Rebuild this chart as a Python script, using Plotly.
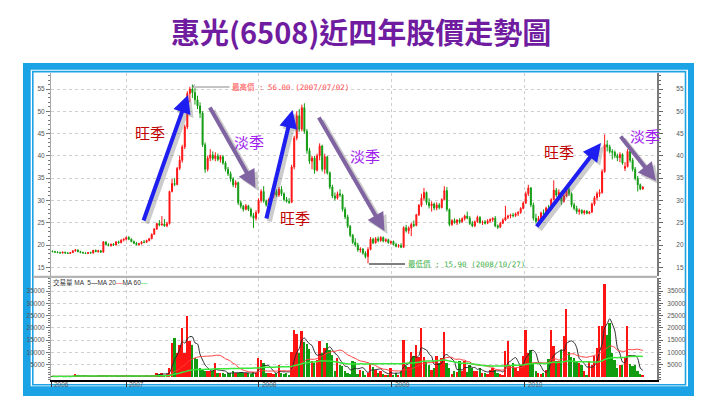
import pandas as pd
import plotly.graph_objects as go

# ---------------- data (weekly candles) ----------------
opens = [
    18.6, 18.5, 18.4, 18.3, 18.2, 18.4, 18.2, 18.1, 18.3, 18.7,
    18.9, 18.5, 18.3, 18.2, 18.1, 18.3, 18.2, 18.8, 18.5, 18.7,
    18.4, 20.7, 20.1, 19.9, 20.2, 20.0, 20.7, 20.5, 21.1, 21.3,
    21.7, 21.3, 20.8, 20.4, 20.1, 20.3, 20.7, 20.6, 21.0, 21.4,
    22.4, 23.6, 24.8, 24.5, 24.7, 24.3, 24.8, 32.0, 33.8, 33.6,
    37.2, 39.0, 42.0, 46.5, 54.0, 55.0, 54.2, 52.6, 51.2, 49.6,
    42.5, 37.0, 39.5, 40.2, 39.4, 40.0, 39.2, 39.8, 38.4, 37.0,
    36.0, 34.8, 33.5, 34.0, 29.5, 28.7, 28.0, 28.8, 28.0, 26.6,
    26.0, 27.3, 30.0, 32.0, 29.9, 29.0, 30.2, 31.2, 32.0, 31.2,
    32.5, 31.5, 30.2, 29.8, 29.6, 37.5, 44.0, 49.0, 46.0, 50.8,
    45.5, 41.2, 38.8, 39.5, 36.8, 40.0, 42.2, 37.0, 39.8, 36.2,
    33.0, 31.0, 30.5, 31.5, 31.2, 28.0, 26.3, 24.2, 22.2, 20.6,
    20.0, 18.9, 19.1, 18.2, 17.4, 19.0, 21.3, 20.5, 21.4, 21.0,
    21.7, 20.9, 21.2, 20.5, 20.8, 20.1, 19.7, 19.9, 19.5, 23.9,
    23.2, 23.8, 24.6, 24.4, 26.8, 28.9, 30.5, 31.8, 29.5, 28.8,
    29.2, 28.3, 29.0, 28.4, 30.2, 32.2, 28.0, 24.6, 25.5, 25.0,
    25.6, 25.2, 25.9, 26.5, 26.0, 24.8, 24.3, 25.2, 26.2, 25.0,
    25.2, 24.9, 25.4, 25.7, 26.0, 24.3, 24.0, 24.9, 25.6, 26.2,
    26.5, 26.7, 26.6, 27.0, 27.3, 28.2, 29.4, 31.5, 32.8, 29.0,
    26.0, 25.3, 26.0, 27.2, 27.0, 28.3, 28.0, 30.2, 32.3, 31.2,
    31.8, 29.8, 31.0, 32.5, 31.5, 29.0, 28.2, 27.5, 27.8, 27.2,
    27.6, 27.1, 27.4, 29.2, 30.6, 31.5, 31.8, 36.5, 42.5, 42.0,
    41.0, 40.8, 40.0, 39.6, 40.3, 37.2, 37.6, 41.0, 39.0, 37.0,
    35.0, 33.5, 32.6,
]
highs = [
    18.8, 18.7, 18.6, 18.5, 18.5, 18.5, 18.4, 18.4, 18.8, 19.1,
    19.0, 18.7, 18.5, 18.4, 18.4, 18.5, 18.9, 19.0, 18.9, 18.9,
    20.9, 20.8, 20.4, 20.3, 20.4, 20.9, 21.0, 21.3, 21.5, 21.9,
    22.0, 21.5, 21.0, 20.7, 20.5, 20.9, 21.1, 21.2, 21.6, 22.6,
    23.8, 25.0, 25.6, 26.5, 25.8, 25.2, 32.2, 34.8, 35.0, 37.5,
    40.0, 42.5, 47.0, 54.5, 55.5, 56.0, 55.2, 53.5, 52.0, 50.0,
    43.0, 40.0, 41.5, 41.0, 40.8, 40.5, 40.2, 40.2, 38.8, 37.5,
    36.5, 35.2, 34.5, 34.2, 30.0, 29.0, 29.2, 29.0, 28.4, 27.2,
    27.8, 30.5, 32.5, 33.2, 30.2, 30.5, 31.8, 32.8, 32.5, 33.0,
    33.2, 31.8, 30.8, 30.5, 38.0, 44.5, 50.0, 50.5, 51.5, 51.8,
    46.0, 41.8, 40.0, 40.0, 40.5, 42.8, 42.5, 40.5, 40.0, 36.5,
    33.5, 31.8, 32.0, 32.5, 31.5, 28.5, 26.8, 24.5, 22.5, 21.5,
    20.5, 19.5, 19.3, 18.6, 19.5, 21.8, 21.6, 21.8, 21.9, 22.0,
    21.9, 21.5, 21.4, 21.0, 21.0, 20.5, 20.2, 20.4, 24.2, 24.5,
    24.2, 25.0, 25.5, 27.0, 29.2, 31.5, 32.8, 32.0, 30.5, 29.8,
    29.5, 29.6, 29.4, 30.5, 33.2, 33.0, 28.2, 25.8, 26.0, 25.8,
    26.0, 26.2, 26.8, 27.5, 26.5, 25.4, 25.5, 26.6, 26.5, 25.5,
    25.6, 25.8, 26.0, 26.2, 26.5, 24.6, 25.2, 26.0, 28.8, 26.8,
    27.0, 27.2, 27.3, 27.6, 28.5, 29.8, 32.0, 33.5, 33.0, 29.5,
    27.0, 26.5, 27.5, 28.0, 28.6, 29.0, 30.5, 34.5, 32.8, 32.5,
    32.2, 31.5, 33.5, 33.0, 31.8, 29.5, 28.8, 28.2, 28.0, 27.9,
    27.8, 27.6, 29.5, 31.0, 32.0, 32.5, 37.0, 44.8, 43.5, 42.5,
    41.5, 41.2, 40.5, 40.8, 40.6, 38.6, 41.5, 41.5, 39.5, 37.5,
    35.5, 33.8, 33.2,
]
lows = [
    18.4, 18.3, 18.2, 18.1, 18.1, 18.1, 18.0, 18.0, 18.2, 18.5,
    18.4, 18.2, 18.1, 18.0, 18.0, 18.1, 18.1, 18.4, 18.3, 18.3,
    18.3, 20.0, 19.7, 19.6, 19.8, 19.9, 20.3, 20.4, 20.8, 21.0,
    21.1, 20.6, 20.2, 19.9, 19.8, 20.1, 20.4, 20.5, 20.8, 21.3,
    22.3, 23.4, 24.2, 24.3, 24.1, 24.0, 24.6, 31.8, 33.2, 33.4,
    36.8, 38.5, 41.5, 46.0, 52.0, 53.0, 51.5, 50.5, 48.5, 42.0,
    36.2, 36.5, 38.8, 39.0, 38.8, 38.8, 38.5, 38.0, 36.5, 35.5,
    34.2, 33.0, 32.8, 29.0, 28.2, 27.5, 27.8, 27.6, 26.2, 23.8,
    25.5, 27.0, 29.5, 29.5, 28.6, 28.8, 29.8, 30.5, 30.8, 30.8,
    31.0, 29.8, 29.5, 29.2, 29.4, 37.0, 43.5, 45.5, 45.5, 45.0,
    40.5, 38.2, 37.0, 36.0, 36.5, 39.0, 36.5, 36.0, 35.8, 32.5,
    30.5, 30.0, 30.2, 30.8, 27.5, 25.8, 23.8, 21.8, 20.2, 19.6,
    18.5, 18.3, 17.8, 17.0, 15.9, 18.8, 20.2, 20.3, 20.6, 20.7,
    20.6, 20.6, 20.3, 20.1, 19.9, 19.5, 19.4, 19.3, 19.4, 22.8,
    22.5, 22.0, 24.0, 24.2, 26.5, 28.5, 30.0, 29.0, 28.2, 27.5,
    27.8, 27.8, 28.0, 28.2, 30.0, 27.5, 24.2, 24.3, 24.8, 24.5,
    24.8, 25.0, 25.5, 25.8, 24.5, 24.0, 24.0, 25.0, 24.8, 24.5,
    24.6, 24.7, 25.0, 25.2, 24.0, 23.6, 23.8, 24.7, 25.4, 25.8,
    26.0, 26.2, 26.3, 26.5, 27.0, 28.0, 29.2, 31.0, 28.5, 25.5,
    24.8, 24.2, 25.8, 26.5, 26.8, 27.5, 27.8, 30.0, 30.8, 30.5,
    29.0, 29.5, 30.8, 31.0, 28.5, 27.8, 27.0, 26.8, 26.9, 26.8,
    26.9, 26.9, 27.2, 28.8, 30.0, 30.8, 31.5, 36.2, 41.0, 40.5,
    39.2, 39.5, 38.8, 38.6, 38.0, 36.6, 37.4, 38.5, 36.5, 34.5,
    32.0, 32.3, 32.4,
]
closes = [
    18.5, 18.4, 18.3, 18.2, 18.4, 18.2, 18.1, 18.3, 18.7, 18.9,
    18.5, 18.3, 18.2, 18.1, 18.3, 18.2, 18.8, 18.5, 18.7, 18.4,
    20.7, 20.1, 19.9, 20.2, 20.0, 20.7, 20.5, 21.1, 21.3, 21.7,
    21.3, 20.8, 20.4, 20.1, 20.3, 20.7, 20.6, 21.0, 21.4, 22.4,
    23.6, 24.8, 24.5, 24.7, 24.3, 24.8, 32.0, 33.8, 33.6, 37.2,
    39.0, 42.0, 46.5, 54.0, 55.0, 54.2, 52.6, 51.2, 49.6, 42.5,
    37.0, 39.5, 40.2, 39.4, 40.0, 39.2, 39.8, 38.4, 37.0, 36.0,
    34.8, 33.5, 34.0, 29.5, 28.7, 28.0, 28.8, 28.0, 26.6, 26.0,
    27.3, 30.0, 32.0, 29.9, 29.0, 30.2, 31.2, 32.0, 31.2, 32.5,
    31.5, 30.2, 29.8, 29.6, 37.5, 44.0, 49.0, 46.0, 50.8, 45.5,
    41.2, 38.8, 39.5, 36.8, 40.0, 42.2, 37.0, 39.8, 36.2, 33.0,
    31.0, 30.5, 31.5, 31.2, 28.0, 26.3, 24.2, 22.2, 20.6, 20.0,
    18.9, 19.1, 18.2, 17.4, 19.0, 21.3, 20.5, 21.4, 21.0, 21.7,
    20.9, 21.2, 20.5, 20.8, 20.1, 19.7, 19.9, 19.5, 23.9, 23.2,
    23.8, 24.6, 24.4, 26.8, 28.9, 30.5, 31.8, 29.5, 28.8, 29.2,
    28.3, 29.0, 28.4, 30.2, 32.2, 28.0, 24.6, 25.5, 25.0, 25.6,
    25.2, 25.9, 26.5, 26.0, 24.8, 24.3, 25.2, 26.2, 25.0, 25.2,
    24.9, 25.4, 25.7, 26.0, 24.3, 24.0, 24.9, 25.6, 26.2, 26.5,
    26.7, 26.6, 27.0, 27.3, 28.2, 29.4, 31.5, 32.8, 29.0, 26.0,
    25.3, 26.0, 27.2, 27.0, 28.3, 28.0, 30.2, 32.3, 31.2, 31.8,
    29.8, 31.0, 32.5, 31.5, 29.0, 28.2, 27.5, 27.8, 27.2, 27.6,
    27.1, 27.4, 29.2, 30.6, 31.5, 31.8, 36.5, 42.5, 42.0, 41.0,
    40.8, 40.0, 39.6, 40.3, 38.4, 37.6, 41.0, 39.0, 37.0, 35.0,
    33.5, 32.6, 33.0,
]
volumes = [
    300, 200, 250, 300, 200, 250, 300, 200, 400, 1200,
    500, 400, 500, 300, 400, 200, 300, 400, 500, 600,
    900, 500, 400, 300, 400, 500, 400, 600, 500, 500,
    400, 500, 300, 400, 300, 400, 300, 500, 400, 600,
    1000, 1500, 1200, 1500, 1000, 1300, 3700, 13800, 15900, 9800,
    13200, 20000, 9800, 24700, 14500, 12900, 7700, 7500, 3700, 2800,
    2500, 2300, 2500, 2300, 5700, 1600, 1500, 1800, 1400, 1600,
    1500, 2300, 1800, 1500, 2000, 1500, 1800, 1500, 1200, 2000,
    1600, 7700, 7000, 5500, 1600, 1500, 1800, 1200, 1500, 5000,
    1500, 1200, 1600, 1000, 10200, 19300, 17500, 9800, 18600, 14200,
    13400, 11500, 6400, 5700, 7100, 14800, 9800, 11800, 13800, 11100,
    8800, 2600, 7700, 5000, 4400, 2300, 1600, 1200, 6400, 6200,
    1200, 3000, 2300, 1000, 1600, 5700, 3900, 3000, 1600, 2300,
    1200, 900, 700, 3700, 1000, 1600, 900, 2300, 15200, 4400,
    4000, 10200, 8400, 12900, 8000, 20000, 8000, 6000, 5000, 3000,
    3700, 8400, 5700, 7700, 18300, 5700, 3700, 1200, 2300, 2000,
    6400, 2300, 6400, 2000, 5000, 3700, 2500, 2300, 3700, 1600,
    1500, 1200, 3000, 3700, 3000, 1600, 1200, 900, 10400, 14800,
    5000, 5700, 3700, 2300, 5000, 8400, 19100, 9800, 11100, 5700,
    2300, 1600, 1200, 1600, 3000, 7400, 19100, 12500, 6400, 6400,
    11100, 16500, 27700, 10200, 8000, 7700, 6400, 5700, 5000, 2300,
    1000, 6400, 5000, 8400, 11800, 20600, 20900, 37900, 17200, 22000,
    9800, 7100, 3700, 5000, 5000, 8000, 20600, 5300, 4400, 5000,
    2300, 1200, 500,
]
first_week = "2006-06-12"
year_labels = ["2006", "2007", "2008", "2009", "2010"]
year_starts = ["2006-06-08", "2007-01-01", "2008-01-01", "2009-01-01", "2010-01-01"]
x_end = "2010-12-31"
price_ticks = [15, 20, 25, 30, 35, 40, 45, 50, 55]
volume_ticks = [5000, 10000, 15000, 20000, 25000, 30000, 35000]
ma_windows = [5, 20, 60]
high_text = "最高價 : 56.00 (2007/07/02)"
low_text = "最低價 : 15.90 (2008/10/27)"
title_text = "惠光(6508)近四年股價走勢圖"

# ---------------- styling ----------------
W, H = 706, 408
RED = "#ff1414"
GREEN = "#129c12"
BLUE_FRAME = "#1ca3e6"
GRID = "#cfcfcf"
ARROW_BLUE = "#1e1ef0"
ARROW_PURPLE = "#8064a2"
TICKFONT = dict(family="Liberation Sans, Arial, sans-serif", size=6.5, color="#555555")
CJK = "Noto Sans CJK TC"


def X(px):
    return px / W


def Y(py):
    return 1 - py / H


dates = pd.date_range(first_week, periods=len(closes), freq="7D")
vol = pd.Series(volumes, dtype=float)
bar_colors = [RED if c >= o else GREEN for o, c in zip(opens, closes)]

fig = go.Figure()
fig.add_trace(go.Candlestick(
    x=dates, open=opens, high=highs, low=lows, close=closes,
    increasing=dict(line=dict(color=RED, width=1), fillcolor=RED),
    decreasing=dict(line=dict(color=GREEN, width=1), fillcolor=GREEN),
    whiskerwidth=0, xaxis="x", yaxis="y", showlegend=False, hoverinfo="skip"))
fig.add_trace(go.Scatter(x=[dates[0]], y=[30], mode="markers", marker=dict(opacity=0),
                         xaxis="x", yaxis="y2", showlegend=False, hoverinfo="skip"))
fig.add_trace(go.Bar(x=dates, y=volumes, marker=dict(color=bar_colors, line=dict(width=0)),
                     width=5.0 * 86400000, xaxis="x2", yaxis="y3", showlegend=False,
                     hoverinfo="skip"))
ma_styles = {5: ("#2a2a2a", 1.0), 20: ("#ff3c3c", 1.0), 60: ("#39e639", 1.5)}
for w in ma_windows:
    color, lw = ma_styles[w]
    fig.add_trace(go.Scatter(x=dates, y=vol.rolling(w, min_periods=1).mean(), mode="lines",
                             line=dict(color=color, width=lw, shape="spline", smoothing=0.8),
                             xaxis="x2", yaxis="y3", showlegend=False, hoverinfo="skip"))
fig.add_trace(go.Scatter(x=[dates[0]], y=[1000], mode="markers", marker=dict(opacity=0),
                         xaxis="x2", yaxis="y4", showlegend=False, hoverinfo="skip"))

price_range = [13.05, 58.59]
vol_range = [-1221, 40293]
xdom = [X(43), X(649)]
pdom = [Y(268), Y(65)]
vdom = [Y(372), Y(270)]

common_x = dict(type="date", range=[year_starts[0], x_end], domain=xdom, showgrid=True,
                gridcolor=GRID, griddash="3px,3px", gridwidth=1, zeroline=False,
                showticklabels=False)
left_y = dict(showline=True, linecolor="#a8a8a8", linewidth=1, ticks="outside", ticklen=4,
              tickcolor="#777777", tickfont=TICKFONT, zeroline=False)
right_y = dict(showline=True, linecolor="#7a7a7a", linewidth=2, ticks="outside", ticklen=4,
               tickcolor="#666666", tickfont=TICKFONT, zeroline=False, showgrid=False,
               side="right")

fig.update_layout(
    width=W, height=H, margin=dict(l=0, r=0, t=0, b=0),
    paper_bgcolor="white", plot_bgcolor="rgba(0,0,0,0)", showlegend=False,
    boxgap=0.45, bargap=0,
    xaxis=dict(common_x, anchor="y", tickvals=year_starts[1:], ticks="",
               rangeslider=dict(visible=False), showline=False),
    xaxis2=dict(common_x, anchor="y3", matches="x", tickvals=year_starts, ticks="outside",
                ticklen=5, tickcolor="#333333", showline=True, linecolor="#000000",
                linewidth=1.5),
    yaxis=dict(left_y, domain=pdom, anchor="x", range=price_range, tickvals=price_ticks,
               showgrid=True, gridcolor=GRID, griddash="3px,3px",
               minor=dict(tickmode="linear", tick0=0, dtick=1, ticks="outside", ticklen=2,
                          tickcolor="#777777", showgrid=False)),
    yaxis2=dict(right_y, overlaying="y", anchor="x", range=price_range, tickvals=price_ticks,
                ticklabelstandoff=12,
                minor=dict(tickmode="linear", tick0=0, dtick=1, ticks="outside", ticklen=2,
                           tickcolor="#666666", showgrid=False)),
    yaxis3=dict(left_y, domain=vdom, anchor="x2", range=vol_range, tickvals=volume_ticks,
                tickformat="d", showgrid=True, gridcolor=GRID, griddash="3px,3px",
                minor=dict(tickmode="linear", tick0=0, dtick=1000, ticks="outside",
                           ticklen=2, tickcolor="#777777", showgrid=False)),
    yaxis4=dict(right_y, overlaying="y3", anchor="x2", range=vol_range,
                tickvals=volume_ticks, tickformat="d", ticklabelstandoff=3,
                minor=dict(tickmode="linear", tick0=0, dtick=1000, ticks="outside",
                           ticklen=2, tickcolor="#666666", showgrid=False)),
)

shapes = [
    dict(type="rect", xref="paper", yref="paper", x0=X(15), x1=X(686), y0=Y(388), y1=Y(55),
         fillcolor=BLUE_FRAME, line=dict(width=0), layer="below"),
    dict(type="rect", xref="paper", yref="paper", x0=X(22.7), x1=X(680), y0=Y(378.3),
         y1=Y(61.7), fillcolor="white", line=dict(width=0), layer="below"),
    dict(type="rect", xref="paper", yref="paper", x0=X(24.8), x1=X(677.5), y0=Y(376.8),
         y1=Y(63.6), line=dict(color=BLUE_FRAME, width=1.6), layer="below"),
    dict(type="line", xref="paper", yref="paper", x0=X(25), x1=X(649), y0=Y(268.8),
         y1=Y(268.8), line=dict(color="#b4b4b4", width=2.2)),
    dict(type="line", xref="paper", yref="paper", x0=X(185), x1=X(221.5), y0=Y(79),
         y1=Y(79), line=dict(color="#8a8a8a", width=1)),
    dict(type="line", xref="paper", yref="paper", x0=X(184.5), x1=X(186.5), y0=Y(80),
         y1=Y(76.5), line=dict(color="#8a8a8a", width=1)),
    dict(type="line", xref="paper", yref="paper", x0=X(361), x1=X(397), y0=Y(256),
         y1=Y(256), line=dict(color="#000000", width=1)),
]
fig.update_layout(shapes=shapes)

ann = []
ann.append(dict(x=X(353), y=Y(23), xref="paper", yref="paper", showarrow=False,
                text="<b>" + title_text + "</b>", xanchor="center", yanchor="middle",
                font=dict(family=CJK, size=29, color="#701ca0")))
for lbl, xs in zip(year_labels, year_starts):
    ann.append(dict(x=xs, y=Y(376), xref="x", yref="paper", showarrow=False, text=lbl,
                    xanchor="left", yanchor="middle", xshift=1,
                    font=dict(family="Liberation Sans, Arial", size=6.5, color="#555555")))
ann.append(dict(x=X(43), y=Y(274.5), xref="paper", yref="paper", showarrow=False,
                xanchor="left", yanchor="middle",
                text="交易量 MA  5<span style='color:#222222'>—</span>MA 20"
                     "<span style='color:#ff3c3c'>—</span>MA 60"
                     "<span style='color:#39e639'>—</span>",
                font=dict(family="Liberation Sans, " + CJK, size=6.5, color="#333333")))
ann.append(dict(x=X(222), y=Y(79), xref="paper", yref="paper", showarrow=False,
                xanchor="left", yanchor="middle", text=high_text,
                font=dict(family="DejaVu Sans Mono, " + CJK, size=7.5, color="#ff4a4a")))
ann.append(dict(x=X(398), y=Y(256), xref="paper", yref="paper", showarrow=False,
                xanchor="left", yanchor="middle", text=low_text,
                font=dict(family="DejaVu Sans Mono, " + CJK, size=7.5, color="#3fb24b")))

season_labels = [
    ("旺季", 142, 124, "#c00000"), ("淡季", 241, 134, "#a020f0"),
    ("旺季", 287, 210, "#c00000"), ("淡季", 357, 147, "#a020f0"),
    ("旺季", 551, 143, "#c00000"), ("淡季", 637, 127, "#a020f0"),
]
for txt, px, py, col in season_labels:
    ann.append(dict(x=X(px), y=Y(py), xref="paper", yref="paper", showarrow=False,
                    text=txt, xanchor="center", yanchor="middle",
                    font=dict(family=CJK, size=15, color=col)))

arrows = [
    ((135, 214), (180, 87), ARROW_BLUE),
    ((258, 212), (284.5, 102), ARROW_BLUE),
    ((527.5, 220), (593, 135), ARROW_BLUE),
    ((201, 98), (247.5, 180), ARROW_PURPLE),
    ((310, 108), (376.5, 223), ARROW_PURPLE),
    ((611.5, 127), (648, 173), ARROW_PURPLE),
]
for (tx, ty), (hx, hy), col in arrows:
    ann.append(dict(x=X(hx + 3), y=Y(hy + 3), xref="paper", yref="paper", text="",
                    showarrow=True, ax=tx - hx, ay=ty - hy, axref="pixel", ayref="pixel",
                    arrowhead=2, arrowsize=0.72, arrowwidth=5,
                    arrowcolor="rgba(110,110,110,0.35)"))
for (tx, ty), (hx, hy), col in arrows:
    ann.append(dict(x=X(hx), y=Y(hy), xref="paper", yref="paper", text="",
                    showarrow=True, ax=tx - hx, ay=ty - hy, axref="pixel", ayref="pixel",
                    arrowhead=2, arrowsize=0.9, arrowwidth=4, arrowcolor=col))
fig.update_layout(annotations=ann)

fig.write_html("out.html")
